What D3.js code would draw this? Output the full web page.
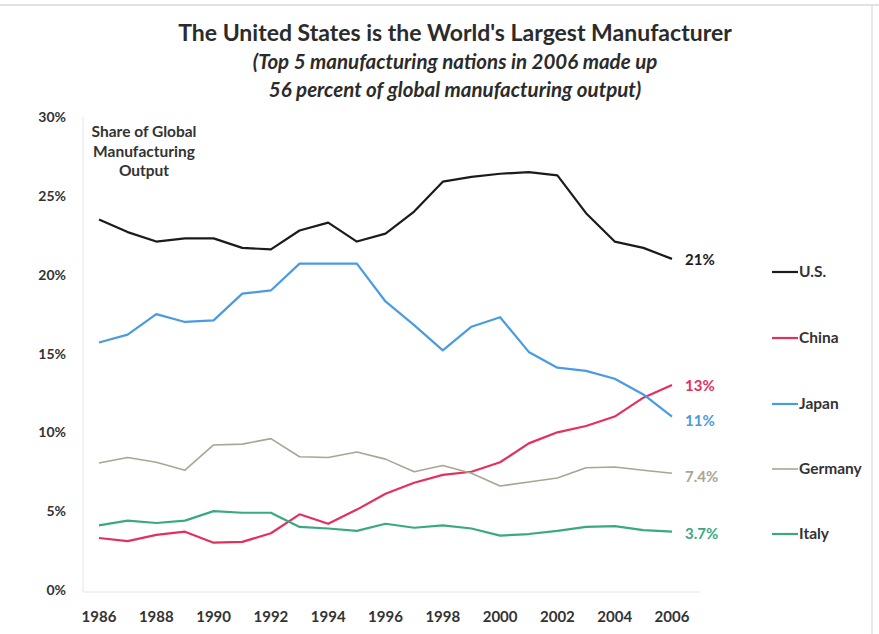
<!DOCTYPE html>
<html><head><meta charset="utf-8">
<script src="https://cdn.jsdelivr.net/npm/d3@7"></script>
<style>body{margin:0;background:#fff;}svg{display:block;font-family:Lato,"Open Sans",sans-serif;}</style>
</head><body>
<svg id="c" width="879" height="634"></svg>
<script>
const years = d3.range(1986, 2007);
const us      = [23.5,22.7,22.1,22.3,22.3,21.7,21.6,22.8,23.3,22.1,22.6,24.0,25.9,26.2,26.4,26.5,26.3,23.9,22.1,21.7,21.0];
const japan   = [15.7,16.2,17.5,17.0,17.1,18.8,19.0,20.7,20.7,20.7,18.3,16.8,15.2,16.7,17.3,15.1,14.1,13.9,13.4,12.4,11.0];
const china   = [3.3,3.1,3.5,3.7,3.0,3.05,3.6,4.8,4.2,5.1,6.1,6.8,7.3,7.5,8.1,9.3,10.0,10.4,11.0,12.2,13.0];
const germany = [8.05,8.4,8.1,7.6,9.2,9.25,9.6,8.45,8.4,8.75,8.3,7.5,7.9,7.4,6.6,6.85,7.1,7.75,7.8,7.6,7.4];
const italy   = [4.1,4.4,4.25,4.4,5.0,4.9,4.9,4.0,3.9,3.75,4.2,3.95,4.1,3.9,3.45,3.55,3.75,4.0,4.05,3.8,3.7];
const seriesNames = ["U.S.","China","Japan","Germany","Italy"];
const endLabels = ["21%","13%","11%","7.4%","3.7%"];
const yTicks = [0,5,10,15,20,25,30];
const xTicks = [1986,1988,1990,1992,1994,1996,1998,2000,2002,2004,2006];
const title = "The United States is the World's Largest Manufacturer";
const subtitle = ["(Top 5 manufacturing nations in 2006 made up","56 percent of global manufacturing output)"];
const axisNote = ["Share of Global","Manufacturing","Output"];

const seriesData = [us, china, japan, germany, italy];
const colors = ["#1b1b1b","#e4305c","#4a9be0","#aaa592","#3aa983"];
const widths = [2.2,2.2,2.2,1.6,2.2];
const endLabelY = [260,386,421,477,534];
const legendY = [272,338,404,469,534];

const svg = d3.select("#c");
const x = d3.scaleLinear().domain([1986,2006]).range([99,672]);
const y = d3.scaleLinear().domain([0,30]).range([590,117]);

// frame
svg.append("line").attr("x1",0).attr("x2",879).attr("y1",5).attr("y2",5).attr("stroke","#d8d8d8").attr("stroke-width",1.5);
svg.append("line").attr("x1",872).attr("x2",872).attr("y1",5).attr("y2",634).attr("stroke","#e2e2e2").attr("stroke-width",1.5);

// axes
svg.append("line").attr("x1",83).attr("x2",83).attr("y1",117).attr("y2",592).attr("stroke","#e4e4e4");
svg.append("line").attr("x1",83).attr("x2",700).attr("y1",592).attr("y2",592).attr("stroke","#e4e4e4");

svg.append("g").selectAll("text").data(yTicks).join("text")
  .attr("x",66).attr("y",d=>y(d)+5).attr("text-anchor","end")
  .attr("font-size",14).attr("font-weight",700).attr("fill","#333")
  .text(d=>d+"%");

svg.append("g").selectAll("text").data(xTicks).join("text")
  .attr("x",d=>x(d)).attr("y",622).attr("text-anchor","middle")
  .attr("font-size",15).attr("font-weight",700).attr("fill","#333")
  .text(d=>d);

// title
svg.append("text").attr("x",455).attr("y",41).attr("text-anchor","middle")
  .attr("font-size",23).attr("font-weight",700).attr("fill","#2b2b2b").text(title);
svg.append("g").selectAll("text").data(subtitle).join("text")
  .attr("x",455).attr("y",(d,i)=>69+i*28).attr("text-anchor","middle")
  .attr("font-size",20.5).attr("font-weight",700).attr("font-style","italic").attr("fill","#2b2b2b").text(d=>d);

svg.append("g").selectAll("text").data(axisNote).join("text")
  .attr("x",144).attr("y",(d,i)=>137+i*19.5).attr("text-anchor","middle")
  .attr("font-size",15.5).attr("font-weight",700).attr("fill","#333").text(d=>d);

// lines
const line = d3.line().x((d,i)=>x(years[i])).y(d=>y(d));
svg.append("g").selectAll("path").data(seriesData).join("path")
  .attr("d",line).attr("fill","none")
  .attr("stroke",(d,i)=>colors[i]).attr("stroke-width",(d,i)=>widths[i])
  .attr("stroke-linejoin","round");

// end labels
svg.append("g").selectAll("text").data(endLabels).join("text")
  .attr("x",685).attr("y",(d,i)=>endLabelY[i]+5)
  .attr("font-size",15).attr("font-weight",700).attr("fill",(d,i)=>colors[i]).text(d=>d);

// legend
const lg = svg.append("g").selectAll("g").data(seriesNames).join("g")
  .attr("transform",(d,i)=>`translate(772,${legendY[i]})`);
lg.append("line").attr("x1",0).attr("x2",26).attr("stroke",(d,i)=>colors[i]).attr("stroke-width",(d,i)=>widths[i]);
lg.append("text").attr("x",27).attr("y",5).attr("font-size",15.5).attr("font-weight",700).attr("fill","#333").text(d=>d);
</script>
</body></html>
